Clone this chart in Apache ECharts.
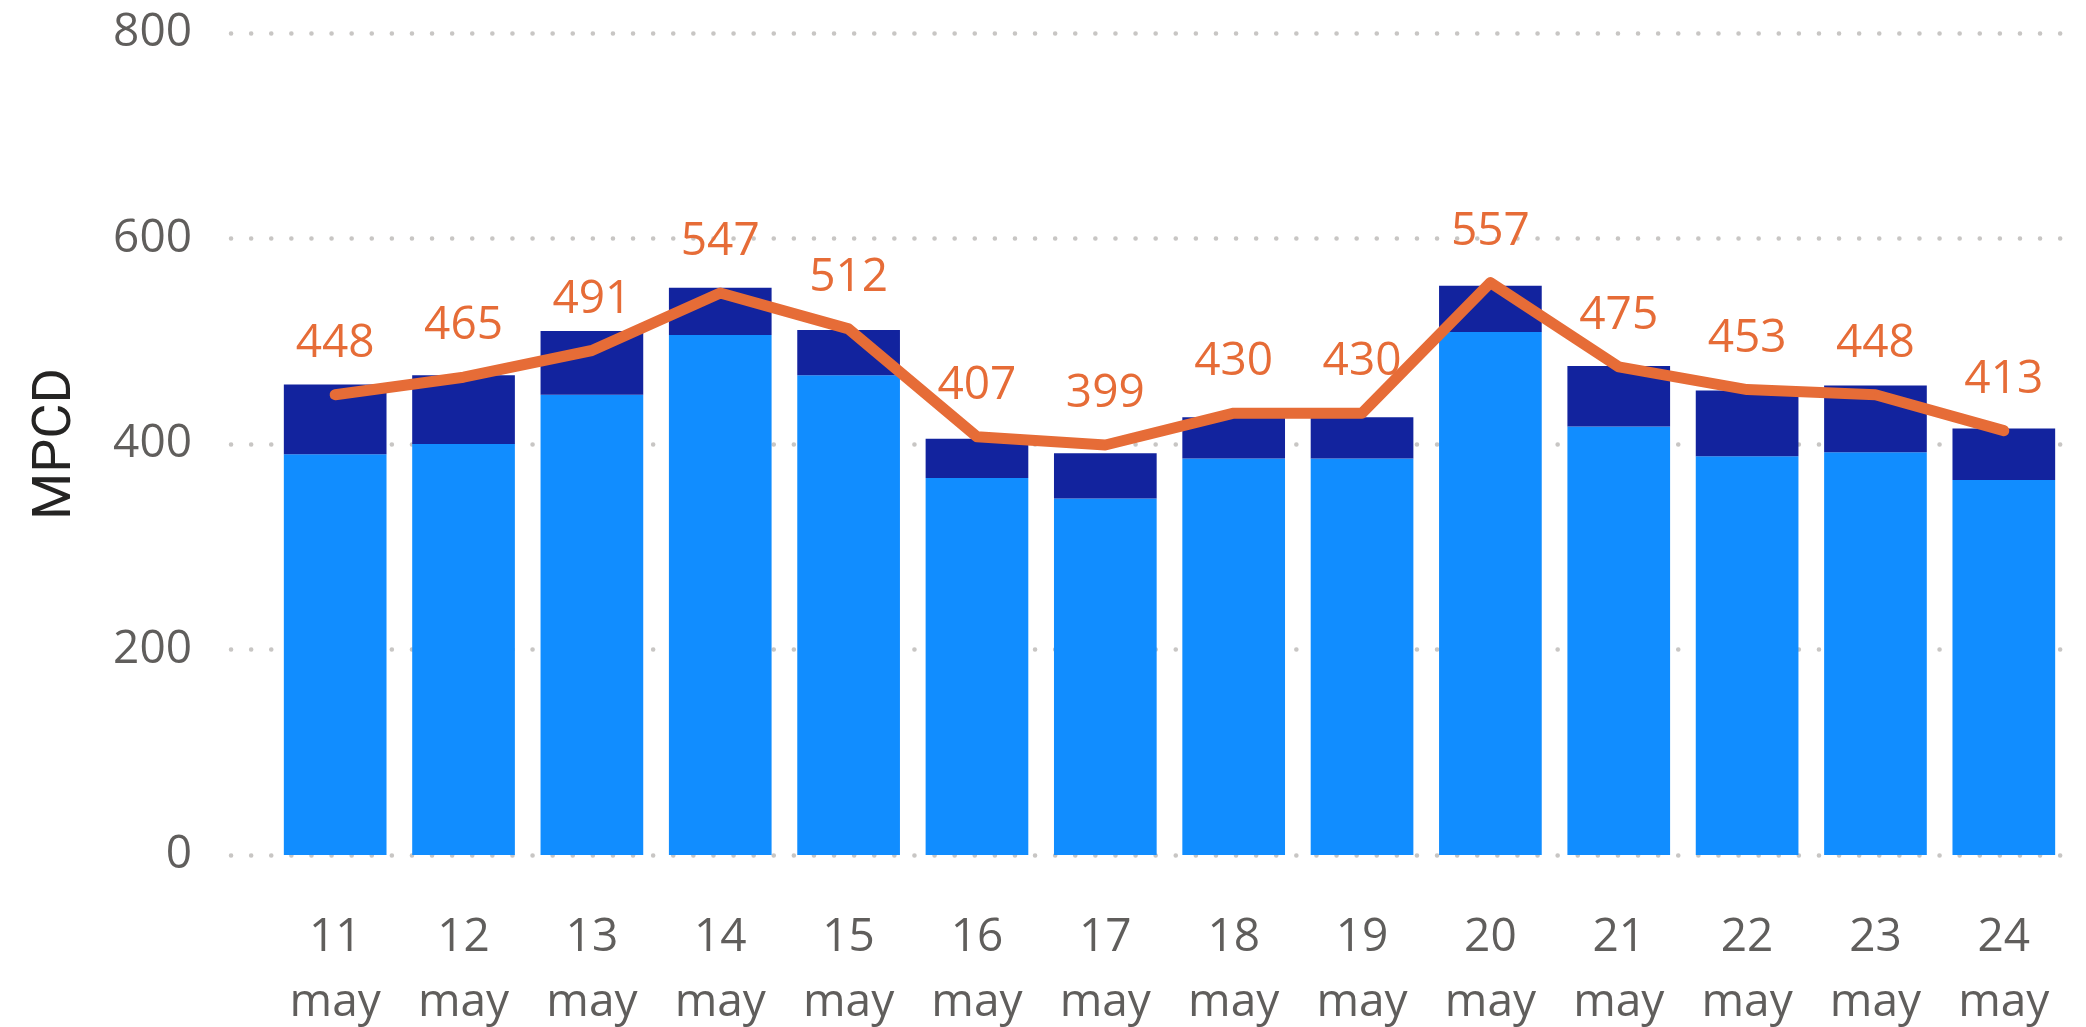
<!DOCTYPE html>
<html>
<head>
<meta charset="utf-8">
<script src="https://cdn.jsdelivr.net/npm/echarts@6/dist/echarts.min.js"></script>
<style>
    html, body { margin: 0; padding: 0; background: #fff; }
    #main { width: 2086px; height: 1027px; }
</style>
</head>
<body>
<div id="main"></div>
<script type="text/javascript">
    // data
    var days = ['11', '12', '13', '14', '15', '16', '17', '18', '19', '20', '21', '22', '23', '24'];
    var lowerPart = [390, 400, 448, 506, 467, 367, 347, 386, 386, 509, 417, 388, 392, 365];
    var upperPart = [68, 67, 62, 46, 44, 38, 44, 40, 40, 45, 59, 64, 65, 50];
    var lineValues = [448, 465, 491, 547, 512, 407, 399, 430, 430, 557, 475, 453, 448, 413];
    var yTicks = [0, 200, 400, 600, 800];

    var fontFam = "'Segoe UI', 'Open Sans', sans-serif";
    var myChart = echarts.init(document.getElementById('main'));

    myChart.setOption({
        animation: false,
        grid: [
            // grid 0: only the value axis, its labels and the dotted lines
            {left: 231, right: 10, top: 33, bottom: 172, outerBoundsMode: 'none'},
            // grid 1: bars and line
            {left: 271, right: 18, top: 33, bottom: 172, outerBoundsMode: 'none'}
        ],
        xAxis: [{
            gridIndex: 0,
            type: 'category',
            data: days,
            show: false
        }, {
            gridIndex: 1,
            type: 'category',
            data: days,
            axisLine: {show: false},
            axisTick: {show: false},
            axisLabel: {
                margin: 50,
                color: '#605E5C',
                fontSize: 46,
                lineHeight: 65,
                fontFamily: fontFam,
                formatter: function (v) {
                    return v + '\nmay';
                }
            }
        }],
        yAxis: [{
            gridIndex: 0,
            type: 'value',
            min: yTicks[0],
            max: yTicks[yTicks.length - 1],
            interval: 200,
            name: 'MPCD',
            nameLocation: 'middle',
            nameGap: 148,
            nameTextStyle: {
                color: '#252423',
                fontSize: 54,
                fontFamily: "Roboto, 'Noto Sans', sans-serif"
            },
            axisLine: {show: false},
            axisTick: {show: false},
            axisLabel: {
                margin: 39,
                color: '#605E5C',
                fontSize: 46,
                fontFamily: fontFam
            },
            splitLine: {
                lineStyle: {
                    color: '#C8C6C4',
                    width: 4.5,
                    type: [0.1, 20],
                    cap: 'round'
                }
            }
        }, {
            gridIndex: 1,
            type: 'value',
            min: 0,
            max: 800,
            interval: 200,
            show: false
        }],
        series: [{
            name: 'lower',
            type: 'bar',
            xAxisIndex: 1,
            yAxisIndex: 1,
            stack: 'total',
            barCategoryGap: '20%',
            itemStyle: {color: '#118DFF'},
            data: lowerPart
        }, {
            name: 'upper',
            type: 'bar',
            xAxisIndex: 1,
            yAxisIndex: 1,
            stack: 'total',
            barCategoryGap: '20%',
            itemStyle: {color: '#12239E'},
            data: upperPart
        }, {
            name: 'MPCD',
            type: 'line',
            xAxisIndex: 1,
            yAxisIndex: 1,
            data: lineValues,
            symbol: 'circle',
            symbolSize: 2,
            showSymbol: true,
            itemStyle: {color: '#E66C37'},
            lineStyle: {
                color: '#E66C37',
                width: 11,
                cap: 'round',
                join: 'round'
            },
            label: {
                show: true,
                position: 'top',
                distance: 27,
                color: '#E66C37',
                fontSize: 46,
                fontFamily: fontFam
            },
            z: 5
        }]
    });
</script>
</body>
</html>
